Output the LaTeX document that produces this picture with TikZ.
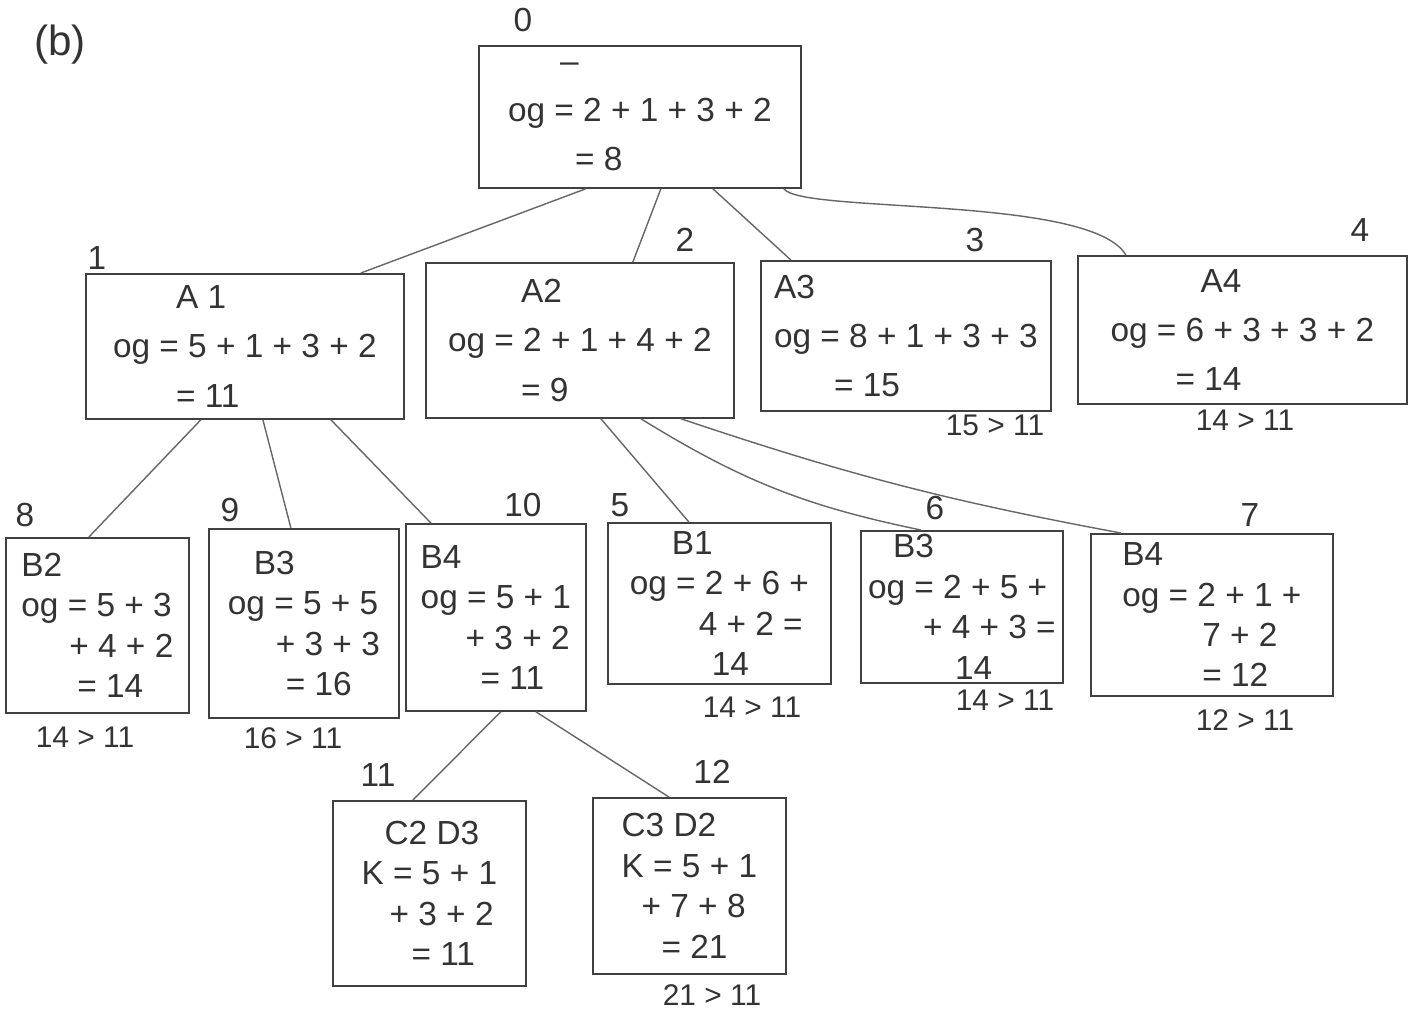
\documentclass[tikz,border=0pt]{standalone}
\usepackage{fontspec}
\setmainfont{Liberation Sans}
\usetikzlibrary{positioning}

\tikzset{
  box/.style={draw=black!75, line width=1pt, rectangle, anchor=north west, align=left,
    inner sep=2pt, font=\fontsize{19}{23}\selectfont, text=black!80},
  topbox/.style={box, font=\fontsize{19}{28}\selectfont},
  num/.style={font=\fontsize{19}{22}\selectfont, text=black!80, inner sep=1pt},
  cmp/.style={font=\fontsize{17}{20}\selectfont, text=black!80, inner sep=1pt},
  link/.style={draw=black!60, line width=0.8pt},
}

\begin{document}
\begin{tikzpicture}
    \useasboundingbox (0,0) rectangle (28.22,-20.32);

    \node[num, font=\fontsize{24}{26}\selectfont] (tag) at (1.20,-0.90) {(b)};

    % level 0
    \node[topbox, minimum width=6.44cm, minimum height=2.84cm] (root) at (9.56,-0.90)
        {\hspace*{1.04cm}--\\og = 2 + 1 + 3 + 2\\\hspace*{1.34cm}= 8};
    \node[num] (n0) at (10.46,-0.40) {0};

    % level 1
    \node[topbox, minimum width=6.36cm, minimum height=2.90cm] (A1) at (1.70,-5.46)
        {\hspace*{1.26cm}A 1\\og = 5 + 1 + 3 + 2\\\hspace*{1.26cm}= 11};
    \node[topbox, minimum width=6.16cm, minimum height=3.10cm] (A2) at (8.50,-5.24)
        {\hspace*{1.46cm}A2\\og = 2 + 1 + 4 + 2\\\hspace*{1.46cm}= 9};
    \node[topbox, minimum width=5.80cm, minimum height=3.00cm] (A3) at (15.20,-5.20)
        {A3\\og = 8 + 1 + 3 + 3\\\hspace*{1.20cm}= 15};
    \node[topbox, minimum width=6.58cm, minimum height=2.96cm] (A4) at (21.54,-5.10)
        {\hspace*{1.80cm}A4\\og = 6 + 3 + 3 + 2\\\hspace*{1.30cm}= 14};
    \node[num] (n1) at (1.94,-5.16) {1};
    \node[num] (n2) at (13.70,-4.80) {2};
    \node[num] (n3) at (19.50,-4.80) {3};
    \node[num] (n4) at (27.20,-4.60) {4};
    \node[cmp] (c3) at (19.90,-8.50) {15 > 11};
    \node[cmp] (c4) at (24.90,-8.40) {14 > 11};

    % level 2
    \node[box, minimum width=3.66cm, minimum height=3.50cm] (B2) at (0.10,-10.74)
        {B2\\og = 5 + 3\\\hspace*{0.96cm}+ 4 + 2\\\hspace*{1.12cm}= 14};
    \node[box, minimum width=3.80cm, minimum height=3.78cm] (B3) at (4.16,-10.56)
        {\hspace*{0.52cm}B3\\og = 5 + 5\\\hspace*{0.96cm}+ 3 + 3\\\hspace*{1.16cm}= 16};
    \node[box, minimum width=3.60cm, minimum height=3.74cm] (B4) at (8.10,-10.46)
        {B4\\og = 5 + 1\\\hspace*{0.90cm}+ 3 + 2\\\hspace*{1.20cm}= 11};
    \node[box, minimum width=4.46cm, minimum height=3.22cm] (B1) at (12.14,-10.44)
        {\hspace*{0.84cm}B1\\og = 2 + 6 +\\\hspace*{1.38cm}4 + 2 =\\\hspace*{1.64cm}14};
    \node[box, minimum width=4.04cm, minimum height=3.04cm] (B3b) at (17.20,-10.60)
        {\hspace*{0.50cm}B3\\og = 2 + 5 +\\\hspace*{1.10cm}+ 4 + 3 =\\\hspace*{1.74cm}14};
    \node[box, minimum width=4.84cm, minimum height=3.24cm] (B4b) at (21.80,-10.66)
        {B4\\og = 2 + 1 +\\\hspace*{1.60cm}7 + 2\\\hspace*{1.60cm}= 12};
    \node[num] (n8) at (0.50,-10.30) {8};
    \node[num] (n9) at (4.60,-10.20) {9};
    \node[num] (n10) at (10.46,-10.10) {10};
    \node[num] (n5) at (12.40,-10.10) {5};
    \node[num] (n6) at (18.70,-10.16) {6};
    \node[num] (n7) at (25.00,-10.30) {7};
    \node[cmp] (c8) at (1.70,-14.74) {14 > 11};
    \node[cmp] (c9) at (5.86,-14.76) {16 > 11};
    \node[cmp] (c5) at (15.04,-14.14) {14 > 11};
    \node[cmp] (c6) at (20.10,-14.00) {14 > 11};
    \node[cmp] (c7) at (24.90,-14.40) {12 > 11};

    % level 3
    \node[box, minimum width=3.86cm, minimum height=3.70cm] (C2D3) at (6.64,-16.00)
        {\hspace*{0.46cm}C2 D3\\K = 5 + 1\\\hspace*{0.56cm}+ 3 + 2\\\hspace*{1.00cm}= 11};
    \node[box, minimum width=3.86cm, minimum height=3.52cm] (C3D2) at (11.84,-15.94)
        {C3 D2\\K = 5 + 1\\\hspace*{0.40cm}+ 7 + 8\\\hspace*{0.80cm}= 21};
    \node[num] (n11) at (7.56,-15.50) {11};
    \node[num] (n12) at (14.24,-15.44) {12};
    \node[cmp] (c12) at (14.24,-19.90) {21 > 11};

    \path[link]
        ([xshift=-1.08cm]root.south) edge ([xshift=2.32cm]A1.north)
        ([xshift=0.42cm]root.south) edge ([xshift=1.06cm]A2.north)
        ([xshift=1.46cm]root.south) edge ([xshift=-2.30cm]A3.north)
        ([xshift=-0.88cm]A1.south) edge ([xshift=-0.17cm]B2.north)
        ([xshift=0.36cm]A1.south) edge ([xshift=-0.26cm]B3.north)
        ([xshift=1.72cm]A1.south) edge ([xshift=-1.30cm]B4.north)
        ([xshift=0.42cm]A2.south) edge ([xshift=-0.61cm]B1.north)
        ([xshift=1.22cm]A2.south) edge[bend right=10] ([xshift=-0.82cm]B3b.north)
        ([xshift=2.02cm]A2.south) edge[bend right=4] ([xshift=-1.82cm]B4b.north)
        ([xshift=0.10cm]B4.south) edge ([xshift=-0.33cm]C2D3.north)
        ([xshift=0.80cm]B4.south) edge ([xshift=-0.41cm]C3D2.north);
    \draw[link] ([xshift=2.88cm]root.south) .. controls +(0.34,-0.5) and +(-0.7,1.2) .. ([xshift=-2.33cm]A4.north);

\end{tikzpicture}
\end{document}
